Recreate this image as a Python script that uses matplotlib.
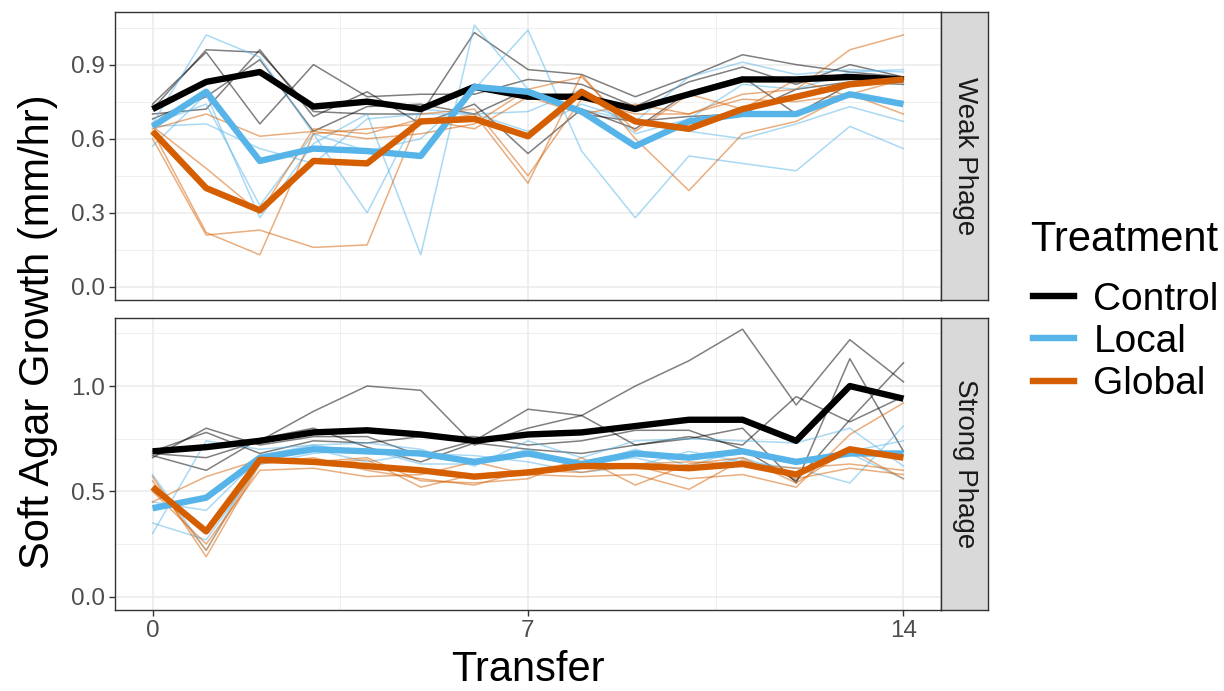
import matplotlib
matplotlib.use("Agg")
import matplotlib.pyplot as plt
from matplotlib.lines import Line2D
from matplotlib.ticker import MultipleLocator, FixedLocator

plt.rcParams['font.family'] = ['Liberation Sans', 'DejaVu Sans']

transfer = list(range(15))
treatments = ["Control", "Local", "Global"]
colors = {"Control": "#000000", "Local": "#56B4E9", "Global": "#D55E00"}

# --- Weak phage: replicate lines ---
weak_control_reps = [
    [0.72, 0.96, 0.95, 0.71, 0.70, 0.70, 1.03, 0.88, 0.86, 0.77, 0.85, 0.94, 0.90, 0.87, 0.85],
    [0.74, 0.95, 0.66, 0.90, 0.77, 0.78, 0.78, 0.84, 0.82, 0.73, 0.83, 0.89, 0.82, 0.90, 0.85],
    [0.70, 0.72, 0.96, 0.69, 0.79, 0.66, 0.74, 0.54, 0.72, 0.64, 0.79, 0.85, 0.70, 0.82, 0.84],
    [0.68, 0.77, 0.92, 0.63, 0.73, 0.74, 0.70, 0.80, 0.70, 0.67, 0.69, 0.70, 0.80, 0.83, 0.82],
]
weak_local_reps = [
    [0.66, 1.02, 0.93, 0.62, 0.55, 0.60, 0.80, 1.04, 0.55, 0.28, 0.53, 0.50, 0.47, 0.65, 0.56],
    [0.57, 0.78, 0.28, 0.58, 0.70, 0.13, 1.06, 0.80, 0.72, 0.67, 0.85, 0.91, 0.86, 0.88, 0.87],
    [0.66, 0.74, 0.33, 0.62, 0.30, 0.72, 0.70, 0.71, 0.80, 0.62, 0.68, 0.82, 0.80, 0.87, 0.88],
    [0.65, 0.66, 0.56, 0.50, 0.68, 0.70, 0.70, 0.63, 0.74, 0.67, 0.63, 0.60, 0.66, 0.73, 0.67],
]
weak_global_reps = [
    [0.63, 0.22, 0.13, 0.62, 0.64, 0.66, 0.70, 0.42, 0.86, 0.60, 0.39, 0.62, 0.67, 0.78, 0.70],
    [0.60, 0.21, 0.23, 0.16, 0.17, 0.70, 0.72, 0.45, 0.76, 0.70, 0.70, 0.78, 0.80, 0.96, 1.02],
    [0.64, 0.70, 0.61, 0.63, 0.60, 0.62, 0.66, 0.80, 0.85, 0.63, 0.78, 0.72, 0.84, 0.77, 0.75],
    [0.65, 0.48, 0.30, 0.64, 0.62, 0.68, 0.64, 0.77, 0.70, 0.74, 0.70, 0.76, 0.75, 0.78, 0.84],
]

# --- Weak phage: treatment means ---
weak_control_mean = [0.72, 0.83, 0.87, 0.73, 0.75, 0.72, 0.81, 0.77, 0.77, 0.72, 0.78, 0.84, 0.84, 0.85, 0.84]
weak_local_mean = [0.65, 0.79, 0.51, 0.56, 0.55, 0.53, 0.81, 0.79, 0.71, 0.57, 0.67, 0.70, 0.70, 0.78, 0.74]
weak_global_mean = [0.63, 0.40, 0.31, 0.51, 0.50, 0.67, 0.68, 0.61, 0.79, 0.67, 0.64, 0.72, 0.77, 0.82, 0.84]

# --- Strong phage: replicate lines ---
strong_control_reps = [
    [0.68, 0.66, 0.74, 0.88, 1.00, 0.98, 0.72, 0.80, 0.86, 1.00, 1.12, 1.27, 0.91, 1.22, 1.02],
    [0.66, 0.80, 0.72, 0.76, 0.76, 0.67, 0.74, 0.89, 0.86, 0.72, 0.75, 0.80, 0.54, 1.13, 0.69],
    [0.69, 0.78, 0.68, 0.74, 0.73, 0.76, 0.76, 0.72, 0.74, 0.79, 0.79, 0.70, 0.55, 0.84, 1.11],
    [0.67, 0.60, 0.75, 0.80, 0.71, 0.64, 0.73, 0.70, 0.68, 0.72, 0.76, 0.72, 0.95, 0.83, 0.95],
]
strong_local_reps = [
    [0.30, 0.74, 0.70, 0.72, 0.73, 0.70, 0.62, 0.74, 0.66, 0.74, 0.75, 0.74, 0.73, 0.80, 0.62],
    [0.45, 0.41, 0.66, 0.70, 0.64, 0.68, 0.67, 0.64, 0.59, 0.62, 0.69, 0.64, 0.61, 0.54, 0.81],
    [0.35, 0.27, 0.63, 0.68, 0.70, 0.63, 0.63, 0.70, 0.62, 0.70, 0.62, 0.70, 0.65, 0.69, 0.74],
    [0.58, 0.22, 0.67, 0.72, 0.68, 0.68, 0.65, 0.67, 0.63, 0.66, 0.60, 0.66, 0.58, 0.68, 0.56],
]
strong_global_reps = [
    [0.57, 0.19, 0.63, 0.66, 0.60, 0.56, 0.53, 0.60, 0.64, 0.62, 0.56, 0.58, 0.52, 0.77, 0.92],
    [0.55, 0.22, 0.64, 0.64, 0.66, 0.55, 0.54, 0.56, 0.66, 0.53, 0.63, 0.66, 0.54, 0.70, 0.56],
    [0.50, 0.25, 0.60, 0.61, 0.57, 0.58, 0.64, 0.58, 0.57, 0.58, 0.51, 0.65, 0.56, 0.61, 0.58],
    [0.45, 0.57, 0.65, 0.63, 0.65, 0.52, 0.58, 0.60, 0.59, 0.63, 0.64, 0.63, 0.61, 0.63, 0.60],
]

# --- Strong phage: treatment means ---
strong_control_mean = [0.69, 0.71, 0.74, 0.78, 0.79, 0.77, 0.74, 0.77, 0.78, 0.81, 0.84, 0.84, 0.74, 1.00, 0.94]
strong_local_mean = [0.42, 0.47, 0.66, 0.70, 0.69, 0.68, 0.64, 0.68, 0.63, 0.68, 0.66, 0.69, 0.64, 0.68, 0.68]
strong_global_mean = [0.52, 0.31, 0.65, 0.64, 0.62, 0.60, 0.57, 0.59, 0.62, 0.62, 0.61, 0.63, 0.58, 0.70, 0.66]

x_ticks = [0, 7, 14]

panels = [
    ("Weak Phage",
     {"Control": weak_control_reps, "Local": weak_local_reps, "Global": weak_global_reps},
     {"Control": weak_control_mean, "Local": weak_local_mean, "Global": weak_global_mean},
     (-0.053, 1.113), 0.3),
    ("Strong Phage",
     {"Control": strong_control_reps, "Local": strong_local_reps, "Global": strong_global_reps},
     {"Control": strong_control_mean, "Local": strong_local_mean, "Global": strong_global_mean},
     (-0.063, 1.323), 0.5),
]

W, H = 1224, 691
fig = plt.figure(figsize=(W / 100, H / 100), dpi=100)

def fx(px):
    return px / W

def fy(py):
    return 1 - py / H

panel_boxes = [(12, 300), (318, 610)]
left_px, right_px, strip_px = 115, 941, 47
border = "#333333"

axes = []
for (title, reps, means, ylim, step), (top, bot) in zip(panels, panel_boxes):
    ax = fig.add_axes([fx(left_px), fy(bot), fx(right_px - left_px), (bot - top) / H])
    axes.append(ax)

    for t in treatments:
        for r in reps[t]:
            ax.plot(transfer, r, color=colors[t], lw=1.1, alpha=0.5, zorder=2)
    for t in treatments:
        ax.plot(transfer, means[t], color=colors[t], lw=4.6, zorder=3,
                solid_capstyle="butt", solid_joinstyle="round")

    ax.set_xlim(-0.7, 14.7)
    ax.set_ylim(*ylim)
    ax.xaxis.set_major_locator(FixedLocator(x_ticks))
    ax.xaxis.set_minor_locator(FixedLocator([3.5, 10.5]))
    ax.yaxis.set_major_locator(MultipleLocator(step))
    ax.yaxis.set_minor_locator(MultipleLocator(step / 2))
    ax.grid(which="major", color="#EBEBEB", lw=1.1, zorder=0)
    ax.grid(which="minor", color="#EBEBEB", lw=0.55, zorder=0)
    ax.set_axisbelow(True)
    ax.yaxis.set_major_formatter(plt.FuncFormatter(lambda v, p: f"{v:.1f}"))
    ax.xaxis.set_major_formatter(plt.FuncFormatter(lambda v, p: f"{v:.0f}"))
    ax.tick_params(axis="both", which="major", length=4, width=1, color=border,
                   labelsize=17.5, labelcolor="#4D4D4D", pad=3)
    ax.tick_params(axis="both", which="minor", length=0)
    for s in ax.spines.values():
        s.set_color(border)
        s.set_linewidth(1.0)

    # facet strip on the right
    sax = fig.add_axes([fx(right_px), fy(bot), fx(strip_px), (bot - top) / H])
    sax.set_facecolor("#D9D9D9")
    sax.set_xticks([])
    sax.set_yticks([])
    for s in sax.spines.values():
        s.set_color(border)
        s.set_linewidth(1.0)
    sax.text(0.5, 0.5, title, rotation=-90, ha="center", va="center",
             fontsize=20, color="#1A1A1A", transform=sax.transAxes)

axes[0].tick_params(axis="x", which="major", length=0, labelbottom=False)

fig.text(fx(528), fy(670), "Transfer", ha="center", va="center", fontsize=30)
fig.text(fx(38), fy(332), "Soft Agar Growth (mm/hr)", rotation=90,
         ha="center", va="center", fontsize=30)

# legend: title placed separately so the gap above the keys can be set
fig.text(fx(1030), fy(240), "Treatment", ha="left", va="center", fontsize=30)
handles = [Line2D([0], [0], color=colors[t], lw=4.6) for t in treatments]
leg = fig.legend(handles, treatments, loc="center left",
                 bbox_to_anchor=(fx(1033), fy(342)), frameon=False,
                 fontsize=28, handlelength=1.05, handletextpad=0.5,
                 labelspacing=0.16, borderaxespad=0, borderpad=0)

fig.savefig("out.png", dpi=100)
